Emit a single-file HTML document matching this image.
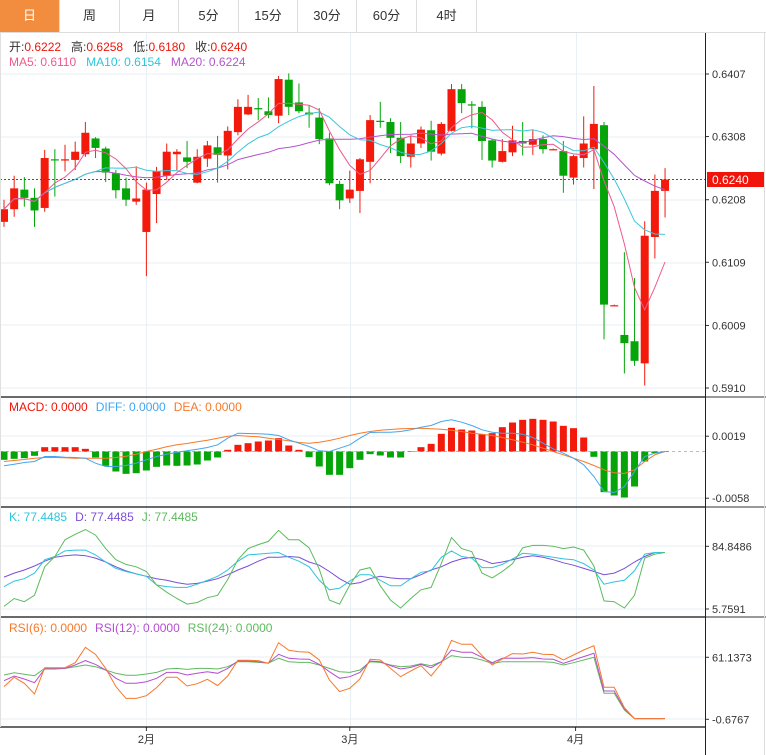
<!DOCTYPE html>
<html><head><meta charset="utf-8"><style>
body{margin:0;width:766px;height:755px;overflow:hidden;background:#fff;font-family:"Liberation Sans","Noto Sans CJK SC",sans-serif;}
#tabs{position:absolute;left:0;top:0;width:766px;height:32px;border-bottom:1px solid #ddd;}
.tab{position:absolute;top:0;height:32px;line-height:32px;text-align:center;font-size:13px;color:#333;border-right:1px solid #ddd;box-sizing:border-box;}
.tab.on{background:#f28c3e;color:#fff;}
svg{position:absolute;left:0;top:0;}
</style></head><body>
<div id="tabs">
<div class="tab on" style="left:0;width:60px">日</div>
<div class="tab" style="left:60px;width:60px">周</div>
<div class="tab" style="left:120px;width:59px">月</div>
<div class="tab" style="left:179px;width:60px">5分</div>
<div class="tab" style="left:239px;width:59px">15分</div>
<div class="tab" style="left:298px;width:59px">30分</div>
<div class="tab" style="left:357px;width:60px">60分</div>
<div class="tab" style="left:417px;width:60px">4时</div>
</div>
<svg id="chart" width="766" height="755" style="top:0"></svg>
<script>
// OHLC data (price)
const opens=[.6173,.6193,.6224,.6211,.6195,.6272,.6270,.6271,.6280,.6305,.6289,.6250,.6226,.6205,.6157,.6217,.6246,.6280,.6275,.6235,.6273,.6291,.6278,.6315,.6343,.6353,.6348,.6341,.6398,.6362,.6346,.6338,.6305,.6233,.6210,.6222,.6268,.6333,.6331,.6306,.6276,.6297,.6318,.6281,.6317,.6383,.6359,.6355,.6302,.6268,.6283,.6301,.6295,.6304,.6288,.6285,.6243,.6274,.6288,.6326,.6041,.5994,.5984,.5949,.6149,.6222];
const closes=[.6193,.6226,.6211,.6191,.6274,.6271,.6272,.6284,.6314,.6290,.6251,.6223,.6208,.6210,.6224,.6253,.6284,.6284,.6268,.6276,.6294,.6279,.6317,.6355,.6355,.6351,.6342,.6399,.6355,.6348,.6343,.6304,.6234,.6207,.6224,.6272,.6334,.6331,.6306,.6277,.6297,.6319,.6284,.6328,.6383,.6361,.6357,.6301,.6270,.6285,.6302,.6297,.6304,.6288,.6288,.6246,.6277,.6297,.6328,.6042,.6041,.5981,.5953,.6151,.6222,.6240];
const highs=[.6208,.6246,.6244,.6226,.6287,.6288,.6295,.6300,.6331,.6307,.6292,.6255,.6243,.6261,.6235,.6260,.6297,.6288,.6301,.6288,.6301,.6309,.6324,.6367,.6374,.6369,.6370,.6404,.6408,.6392,.6357,.6353,.6314,.6238,.6254,.6274,.6342,.6363,.6337,.6331,.6310,.6324,.6333,.6331,.6391,.6391,.6364,.6364,.6304,.6304,.6325,.6331,.6319,.6310,.6289,.6301,.6279,.6340,.6388,.6331,.6042,.6125,.6084,.6174,.6248,.6258];
const lows=[.6165,.6181,.6197,.6165,.6189,.6213,.6253,.6255,.6276,.6274,.6236,.6210,.6198,.6200,.6087,.6171,.6239,.6255,.6258,.6234,.6260,.6235,.6256,.6310,.6342,.6334,.6337,.6329,.6342,.6345,.6322,.6296,.6231,.6193,.6203,.6187,.6234,.6322,.6282,.6266,.6259,.6290,.6270,.6278,.6316,.6345,.6321,.6271,.6259,.6267,.6277,.6278,.6279,.6281,.6287,.6219,.6232,.6259,.6225,.5987,.6040,.5933,.5945,.5914,.6115,.6180];
const priceTicks=["0.6407","0.6308","0.6208","0.6109","0.6009","0.5910"];
// MACD (units of 0.0000414)
const macdBars=[-25,-22,-20,-13,13,13,13,13,8,-18,-43,-60,-67,-65,-57,-46,-42,-43,-42,-39,-27,-18,5,20,25,30,33,40,18,5,-17,-45,-70,-70,-50,-25,-8,-12,-18,-18,-1,13,23,53,71,66,63,51,55,73,87,95,98,95,90,77,70,42,-16,-122,-132,-138,-105,-30,-5,0];
const diffLine=[-43,-38,-33,-30,-15,-15,-17,-18,-20,-35,-45,-45,-42,-35,-25,-15,-8,-2,2,7,12,20,40,55,54,53,52,48,35,25,15,2,0,10,20,40,57,58,58,60,65,73,78,90,95,88,78,65,58,55,55,52,42,25,8,-5,-20,-40,-75,-120,-123,-105,-60,-15,-5,0];
const deaLine=[-30,-27,-24,-20,-18,-18,-19,-20,-20,-20,-20,-18,-14,-8,0,7,14,20,24,29,34,40,46,48,46,44,40,36,32,27,25,28,33,40,48,55,60,64,66,68,69,70,68,67,64,60,55,52,48,42,35,28,20,10,0,-10,-20,-30,-42,-55,-64,-66,-55,-30,-10,0];
const macdTicks=["0.0019","-0.0058"];
// KDJ
const kLine=[34,41,44,51,68,72,79,80,80,74,65,57,53,50,47,36,34,33,33,37,42,47,55,66,74,75,76,77,71,66,59,42,30,32,41,49,49,42,35,35,44,52,54,71,79,72,70,58,58,62,69,76,75,73,71,69,68,63,55,37,40,42,54,75,77,77];
const dLine=[46,51,55,60,66,71,73,74,73,70,65,59,54,50,47,44,42,39,37,38,41,44,49,55,60,66,71,71,72,71,65,61,53,44,37,39,44,47,45,44,44,49,55,59,65,69,71,68,63,65,68,71,73,71,68,64,61,57,53,49,51,57,65,72,77,77];
const jLine=[9,19,15,23,59,72,93,100,106,99,82,68,62,59,53,36,27,19,12,14,20,23,43,68,82,87,91,105,93,93,83,56,17,12,36,55,58,35,17,7,19,30,33,63,96,82,78,51,45,53,63,83,86,86,85,82,84,80,60,16,15,7,23,70,75,77];
const kdjTicks=["84.8486","5.7591"];
// RSI
const rsi6=[31.9,41.2,35.2,24.5,50.8,50.8,50.8,55.8,71.1,64.1,50.1,31.9,20.2,20.2,22.9,30.9,41.2,41.2,32.5,34.8,39.2,32.9,42.5,58.1,58.1,57.8,55.1,75.7,68.1,66.7,66.1,58.4,38.5,26.9,30.2,39.5,59.1,58.4,50.1,41.8,47.5,52.8,42.5,55.1,78.0,74.1,74.1,62.8,53.5,59.4,64.8,64.4,66.1,64.1,63.8,58.4,63.4,68.4,72.7,31.2,31.2,10.9,0,0,0,0];
const rsi12=[37.8,42.5,39.5,35.8,49.5,49.5,50.1,53.5,57.8,54.1,48.5,40.2,35.2,35.2,36.8,40.2,46.1,46.1,43.5,45.2,46.8,45.2,50.1,57.4,57.4,56.8,55.4,64.1,60.1,59.4,59.1,54.1,46.8,40.2,41.8,46.1,57.4,56.8,52.8,49.5,51.1,54.1,50.8,56.8,68.4,66.1,66.1,61.1,55.8,60.1,60.1,60.1,60.8,59.4,59.1,55.1,58.4,61.8,65.1,27.5,27.5,9.6,0,0,0,0];
const rsi24=[43.5,45.8,44.2,42.8,50.1,50.1,50.1,51.8,53.5,51.8,48.5,45.2,43.2,43.2,44.5,46.1,49.5,50.1,49.1,50.1,50.1,49.5,51.8,56.8,56.8,56.1,55.4,60.1,56.8,56.1,56.1,53.5,50.1,46.8,46.1,48.5,56.8,56.1,53.5,51.8,52.5,54.8,52.8,56.8,62.8,61.1,60.8,58.4,55.1,56.8,56.8,56.8,56.8,56.8,56.1,53.5,55.8,58.4,61.1,25.2,25.2,8.6,0,0,0,0];
const rsiTicks=["61.1373","-0.6767"];
const monthLabels=["2月","3月","4月"];
const monthIdx=[14,34,56.2];

const svg=document.getElementById('chart');
const NS='http://www.w3.org/2000/svg';
function mk(tag,attrs,parent){const e=document.createElementNS(NS,tag);for(const k in attrs)e.setAttribute(k,attrs[k]);(parent||svg).appendChild(e);return e;}
const AX=705;
const xAt=i=>4+10.17*i;
const yPrice=p=>74+(0.6407-p)*6318;
const yMacd=v=>451.5-v/3;
const yKdj=v=>546.3+(84.849-v)*0.7928;
const yRsi=v=>657.3+(61.137-v)*1.003;
const RED='#f31a0c',GREEN='#05a50a';

// grids
[74,137,200,263,325,388,436,498,546,609,657,719].forEach(y=>{const l=mk('line',{x1:0,x2:AX,y1:y,y2:y,stroke:'#e8eff5','stroke-width':1});});
monthIdx.forEach(i=>{const x=Math.round(xAt(i))+.5;const l=mk('line',{x1:x,x2:x,y1:33,y2:727,stroke:'#e8eff5','stroke-width':1});});

// MA
function ma(n){return closes.map((c,i)=>{const s=closes.slice(Math.max(0,i-n+1),i+1);return s.reduce((a,b)=>a+b,0)/s.length;});}
function poly(vals,yf,color,name,w){const pts=vals.map((v,i)=>xAt(i).toFixed(1)+','+yf(v).toFixed(1)).join(' ');const p=mk('polyline',{points:pts,fill:'none',stroke:color,'stroke-width':w||1});return p;}

// candles
closes.forEach((c,i)=>{const o=opens[i];const up=c>=o;const col=up?RED:GREEN;const x=xAt(i);
const g=mk('g',{});
mk('line',{x1:x,x2:x,y1:yPrice(highs[i]),y2:yPrice(lows[i]),stroke:col,'stroke-width':1},g);
const t=Math.min(yPrice(o),yPrice(c)),b=Math.max(yPrice(o),yPrice(c));
mk('rect',{x:x-4,y:t,width:8,height:Math.max(1.2,b-t),fill:col},g);});
poly(ma(20),yPrice,'#b455cc','ma20-line');
poly(ma(10),yPrice,'#3ec6dc','ma10-line');
poly(ma(5),yPrice,'#ef5a8c','ma5-line');

// current price line
const cy=yPrice(closes[closes.length-1]);
const cl=mk('line',{x1:0,x2:AX,y1:cy,y2:cy,stroke:'#e8140a','stroke-width':1,'stroke-dasharray':'2,2'});
const cr=mk('rect',{x:707,y:cy-7.5,width:57,height:15,fill:'#f0140a'});
const ct=mk('text',{x:712,y:cy+4.5,fill:'#fff','font-size':12});ct.textContent=closes[closes.length-1].toFixed(4);

// price ticks
priceTicks.forEach(t=>{const y=yPrice(parseFloat(t));mk('line',{x1:AX,x2:AX+4,y1:y,y2:y,stroke:'#333'});const tx=mk('text',{x:712,y:y+4,'font-size':11,fill:'#333'});tx.textContent=t;});

// MACD
const zl=mk('line',{x1:0,x2:AX,y1:yMacd(0),y2:yMacd(0),stroke:'#8cc8ea','stroke-width':1,'stroke-dasharray':'3,3'});
macdBars.forEach((v,i)=>{const x=xAt(i);const y0=yMacd(0),y1=yMacd(v);const r=mk('rect',{x:x-3.5,y:Math.min(y0,y1),width:7,height:Math.max(0.5,Math.abs(y1-y0)),fill:v>=0?RED:GREEN});});
poly(deaLine,yMacd,'#f7792b','dea-line');
poly(diffLine,yMacd,'#45a5ef','diff-line');
macdTicks.forEach(t=>{const y=yMacd(parseFloat(t)/0.0000414);mk('line',{x1:AX,x2:AX+4,y1:y,y2:y,stroke:'#333'});const tx=mk('text',{x:712,y:y+4,'font-size':11,fill:'#333'});tx.textContent=t;});

// KDJ
poly(dLine,yKdj,'#7a4fd6','kdj-d-line');
poly(kLine,yKdj,'#2ec4dc','kdj-k-line');
poly(jLine,yKdj,'#5cbb5c','kdj-j-line');
kdjTicks.forEach(t=>{const y=yKdj(parseFloat(t));mk('line',{x1:AX,x2:AX+4,y1:y,y2:y,stroke:'#333'});const tx=mk('text',{x:712,y:y+4,'font-size':11,fill:'#333'});tx.textContent=t;});

// RSI
poly(rsi24,yRsi,'#62b862','rsi24-line');
poly(rsi12,yRsi,'#b44fd0','rsi12-line');
poly(rsi6,yRsi,'#f7792b','rsi6-line');
rsiTicks.forEach(t=>{const y=yRsi(parseFloat(t));mk('line',{x1:AX,x2:AX+4,y1:y,y2:y,stroke:'#333'});const tx=mk('text',{x:712,y:y+4,'font-size':11,fill:'#333'});tx.textContent=t;});

// months
monthLabels.forEach((m,i)=>{const x=xAt(monthIdx[i]);mk('line',{x1:x,x2:x,y1:727,y2:731,stroke:'#333'});const tx=mk('text',{x:x,y:743,'font-size':11,fill:'#333','text-anchor':'middle'});tx.textContent=m;});

// frame lines
[[0,397,AX,397],[0,507,AX,507],[0,617,AX,617],[0,727,AX,727]].forEach(a=>{const l=mk('line',{x1:a[0],y1:a[1],x2:a[2],y2:a[3],stroke:'#111','stroke-width':1.2});});
[[AX,397,766,397],[AX,507,766,507],[AX,617,766,617]].forEach(a=>mk('line',{x1:a[0],y1:a[1],x2:a[2],y2:a[3],stroke:'#333','stroke-width':1}));
const ax=mk('line',{x1:AX+.5,x2:AX+.5,y1:33,y2:755,stroke:'#222','stroke-width':1});
mk('line',{x1:764.5,x2:764.5,y1:33,y2:755,stroke:'#ddd'});
mk('line',{x1:0.5,x2:0.5,y1:33,y2:727,stroke:'#e0e0e0'});

// legends
function legend(y,items,name){const t=mk('text',{x:9,y:y,'font-size':12});items.forEach(it=>{const s=mk('tspan',{fill:it[1]},t);if(it[2])s.setAttribute('dx',it[2]);s.textContent=it[0];});}
legend(51,[['开:','#333'],['0.6222','#f0140a'],['高:','#333',10],['0.6258','#f0140a'],['低:','#333',10],['0.6180','#f0140a'],['收:','#333',10],['0.6240','#f0140a']],'ohlc-legend');
legend(66,[['MA5: 0.6110','#ef5a8c'],['MA10: 0.6154','#2ec4dc',10],['MA20: 0.6224','#b455cc',10]],'ma-legend');
legend(411,[['MACD: 0.0000','#f0140a'],['DIFF: 0.0000','#45a5ef',8],['DEA: 0.0000','#f7792b',8]],'macd-legend');
legend(521,[['K: 77.4485','#2ec4dc'],['D: 77.4485','#7a4fd6',8],['J: 77.4485','#5cbb5c',8]],'kdj-legend');
legend(632,[['RSI(6): 0.0000','#f7792b'],['RSI(12): 0.0000','#b44fd0',8],['RSI(24): 0.0000','#5cbb5c',8]],'rsi-legend');
document.querySelectorAll('#chart text').forEach(t=>{if(t.getAttribute('font-size')==null)t.setAttribute('font-size',12);});
</script>
</body></html>
